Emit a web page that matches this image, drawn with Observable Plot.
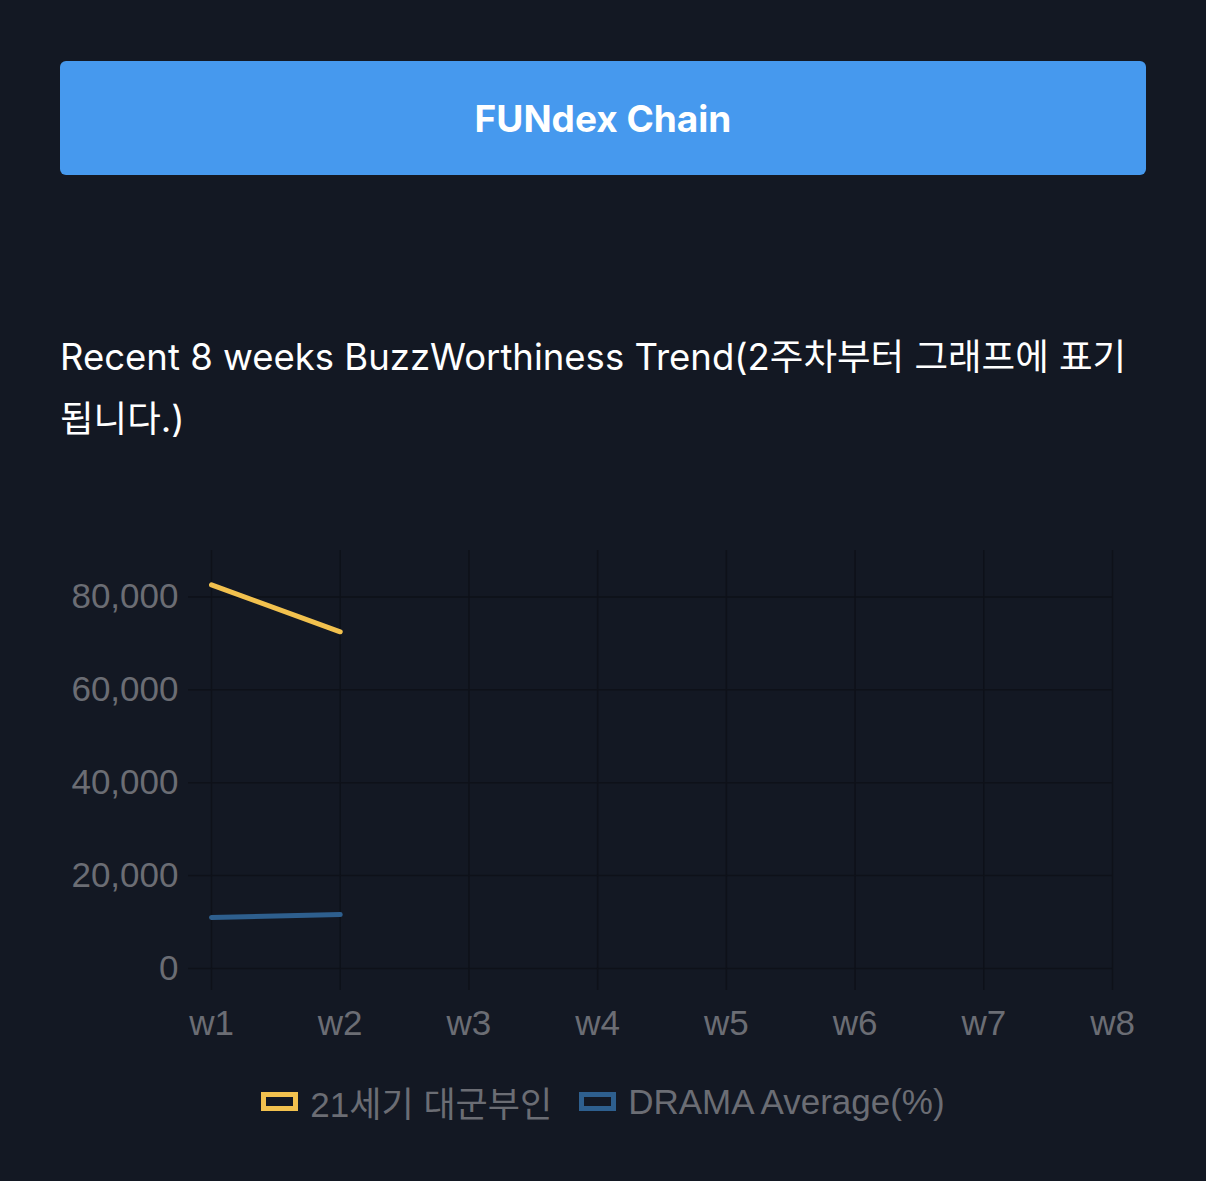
<!DOCTYPE html>
<html>
<head>
<meta charset="utf-8">
<script src="https://cdn.jsdelivr.net/npm/d3@7"></script>
<script src="https://cdn.jsdelivr.net/npm/@observablehq/plot@0.6"></script>
<style>
  html, body { margin: 0; padding: 0; background: #131823; }
  body { width: 1206px; height: 1181px; position: relative; overflow: hidden; }
  #btn {
    position: absolute; left: 60px; top: 61px; width: 1086px; height: 114px;
    background: #4699ee; border-radius: 6px;
    display: flex; align-items: center; justify-content: center;
    color: #ffffff; font-family: Inter, "Noto Sans", sans-serif; font-weight: 700; font-size: 37px;
  }
  #sub {
    position: absolute; left: 60px; top: 326px; width: 1086px;
    color: #ffffff; font-family: Inter, "Noto Sans CJK KR", sans-serif; font-size: 36.5px; line-height: 62px;
    word-break: keep-all;
  }
  #chart { position: absolute; left: 60px; top: 530px; }
  #legend {
    position: absolute; left: 0; top: 1076px; width: 1206px;
    display: flex; justify-content: center; align-items: center; gap: 27px;
    font-family: "Liberation Sans", "Noto Sans CJK KR", sans-serif; font-size: 35px; color: #6b6d74;
  }
  .item { display: flex; align-items: center; }
  .box { width: 27px; height: 9px; border: 5px solid; background: #131823; margin-right: 12px; }
</style>
</head>
<body>
<div id="btn">FUNdex Chain</div>
<div id="sub">Recent 8 weeks BuzzWorthiness Trend(2주차부터 그래프에 표기 됩니다.)</div>
<div id="chart"></div>
<div id="legend"></div>
<script>
const weeks = ["w1", "w2", "w3", "w4", "w5", "w6", "w7", "w8"];
const seriesNames = ["21세기 대군부인", "DRAMA Average(%)"];
const seriesColors = ["#f2c14e", "#2e5f8e"];
const showValues = [82600, 72500];
const avgValues = [11000, 11600];
const yTicks = [0, 20000, 40000, 60000, 80000];

const gridColor = "#0e1119";
const textColor = "#6b6d74";

const rows = [];
showValues.forEach((v, i) => rows.push({week: weeks[i], value: v, series: seriesNames[0]}));
avgValues.forEach((v, i) => rows.push({week: weeks[i], value: v, series: seriesNames[1]}));

const chart = Plot.plot({
  width: 1086,
  height: 518,
  marginLeft: 151,
  marginRight: 34,
  marginTop: 20,
  marginBottom: 80,
  style: {background: "transparent", color: textColor, fontSize: "35px", fontFamily: "'Liberation Sans', Arial, sans-serif"},
  x: {type: "point", domain: weeks, padding: 0, round: false},
  y: {domain: [0, 90000]},
  color: {domain: seriesNames, range: seriesColors},
  marks: [
    Plot.gridX(weeks, {stroke: gridColor, strokeOpacity: 1, strokeWidth: 1.5}),
    Plot.gridY(yTicks, {stroke: gridColor, strokeOpacity: 1, strokeWidth: 1.5}),
    Plot.axisY(yTicks, {tickSize: 23, tickPadding: 10, tickFormat: d3.format(","), stroke: gridColor, strokeWidth: 1.5, fill: textColor, label: null}),
    Plot.axisX(weeks, {tickSize: 22, tickPadding: 20, stroke: gridColor, strokeWidth: 1.5, fill: textColor, label: null}),
    Plot.line(rows, {x: "week", y: "value", z: "series", stroke: "series", strokeWidth: 5})
  ]
});
document.getElementById("chart").appendChild(chart);

const legend = document.getElementById("legend");
seriesNames.forEach((name, i) => {
  const item = document.createElement("div");
  item.className = "item";
  const box = document.createElement("div");
  box.className = "box";
  box.style.borderColor = seriesColors[i];
  const label = document.createElement("span");
  label.textContent = name;
  item.appendChild(box);
  item.appendChild(label);
  legend.appendChild(item);
});
</script>
</body>
</html>
